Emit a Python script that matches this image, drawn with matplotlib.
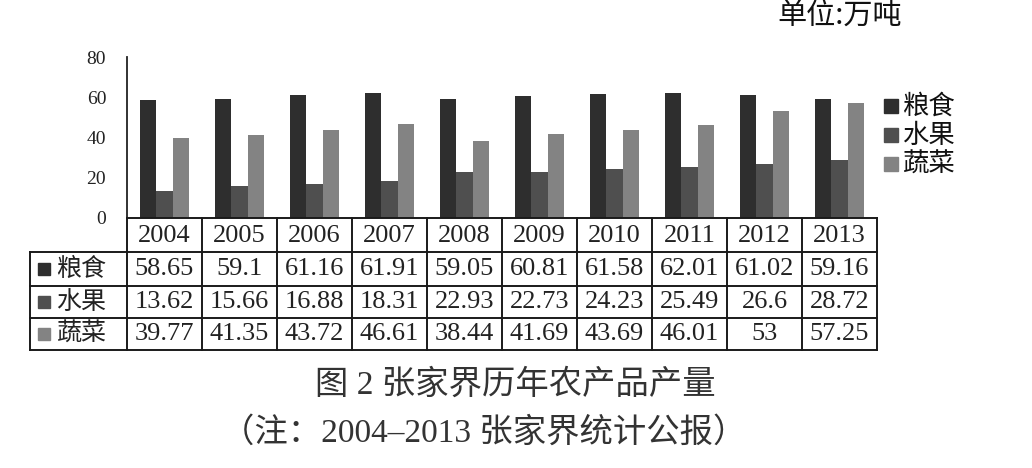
import matplotlib
matplotlib.use("Agg")
import matplotlib.pyplot as plt
import matplotlib.transforms as mtransforms
from matplotlib.patches import Rectangle
import numpy as np

years = ["2004", "2005", "2006", "2007", "2008", "2009", "2010", "2011", "2012", "2013"]
series_names = ["粮食", "水果", "蔬菜"]
grain = [58.65, 59.1, 61.16, 61.91, 59.05, 60.81, 61.58, 62.01, 61.02, 59.16]
fruit = [13.62, 15.66, 16.88, 18.31, 22.93, 22.73, 24.23, 25.49, 26.6, 28.72]
veg = [39.77, 41.35, 43.72, 46.61, 38.44, 41.69, 43.69, 46.01, 53, 57.25]
grain_lbl = ["58.65", "59.1", "61.16", "61.91", "59.05", "60.81", "61.58", "62.01", "61.02", "59.16"]
fruit_lbl = ["13.62", "15.66", "16.88", "18.31", "22.93", "22.73", "24.23", "25.49", "26.6", "28.72"]
veg_lbl = ["39.77", "41.35", "43.72", "46.61", "38.44", "41.69", "43.69", "46.01", "53", "57.25"]
yticks = [0, 20, 40, 60, 80]
unit_text = "单位:万吨"
caption1 = "图 2 张家界历年农产品产量"
caption2 = "（注：2004–2013 张家界统计公报）"

colors = ["#2e2e2e", "#4f4f4f", "#838383"]
W, H = 1032, 468
CJK = ["Noto Sans CJK SC", "DejaVu Sans"]
SERIF = ["Liberation Serif", "Noto Sans CJK SC"]

fig = plt.figure(figsize=(W / 100, H / 100), dpi=100)
ax_l, ax_r, ax_top, ax_bot = 127, 877, 57, 218
ax = fig.add_axes([ax_l / W, 1 - ax_bot / H, (ax_r - ax_l) / W, (ax_bot - ax_top) / H])

x = np.arange(len(years))
bw = 0.215
for i, (vals, c) in enumerate(zip([grain, fruit, veg], colors)):
    ax.bar(x + (i - 1) * bw, vals, width=bw, color=c, edgecolor="none")

ax.set_xlim(-0.5, len(years) - 0.5)
ax.set_ylim(0, 80)
ax.set_yticks(yticks)
ax.set_yticklabels([str(t) for t in yticks], family=SERIF, fontsize=14, color="#222")
ax.tick_params(axis="y", length=0, pad=15)
ax.set_xticks([])
for s in ["top", "right", "bottom"]:
    ax.spines[s].set_visible(False)
ax.spines["left"].set_linewidth(1.3)
ax.spines["left"].set_color("#222")

# table
def fy(py):
    return 1 - py / H

bt = mtransforms.blended_transform_factory(ax.transData, fig.transFigure)
ft = fig.transFigure
lw = 1.4
lc = "#1a1a1a"
row_edges = [218, 252, 286, 318, 350]
left_px = 30
n = len(years)
fig.add_artist(plt.Line2D([-0.5, n - 0.5], [fy(218), fy(218)], transform=bt, color=lc, lw=lw))
for py in row_edges[1:]:
    fig.add_artist(plt.Line2D([left_px / W, ax_r / W], [fy(py), fy(py)], transform=ft, color=lc, lw=lw))
for k in range(n + 1):
    fig.add_artist(plt.Line2D([k - 0.5, k - 0.5], [fy(218), fy(350)], transform=bt, color=lc, lw=lw))
fig.add_artist(plt.Line2D([left_px / W, left_px / W], [fy(252), fy(350)], transform=ft, color=lc, lw=lw))

tfs = 19
for k, yr in enumerate(years):
    fig.text(k, fy(236), yr, transform=bt, ha="center", va="center", family=SERIF, fontsize=tfs, color="#222")
rows = [grain_lbl, fruit_lbl, veg_lbl]
row_cy = [269, 302, 334]
for r, (lbls, cy) in enumerate(zip(rows, row_cy)):
    for k, t in enumerate(lbls):
        fig.text(k, fy(cy), t, transform=bt, ha="center", va="center", family=SERIF, fontsize=tfs, color="#222")
    fig.add_artist(Rectangle((38 / W, fy(cy + 6)), 12 / W, 12 / H, transform=ft, color=colors[r]))
    fig.text(56 / W, fy(cy), series_names[r], transform=ft, ha="left", va="center", family=CJK, fontsize=18, color="#222")

# legend
leg_cy = [106, 135, 164]
for r, cy in enumerate(leg_cy):
    fig.add_artist(Rectangle((884 / W, fy(cy + 7)), 14 / W, 14 / H, transform=ft, color=colors[r]))
    fig.text(902 / W, fy(cy), series_names[r], transform=ft, ha="left", va="center", family=CJK, fontsize=19, color="#111")

fig.text(840 / W, fy(17), unit_text, ha="center", va="center", family=CJK, fontsize=21, color="#111", fontweight="medium")
fig.text(515 / W, fy(385), caption1, ha="center", va="center", family=SERIF, fontsize=24, color="#333")
fig.text(484 / W, fy(433), caption2, ha="center", va="center", family=SERIF, fontsize=24, color="#333")

fig.savefig("out.png", dpi=100)
